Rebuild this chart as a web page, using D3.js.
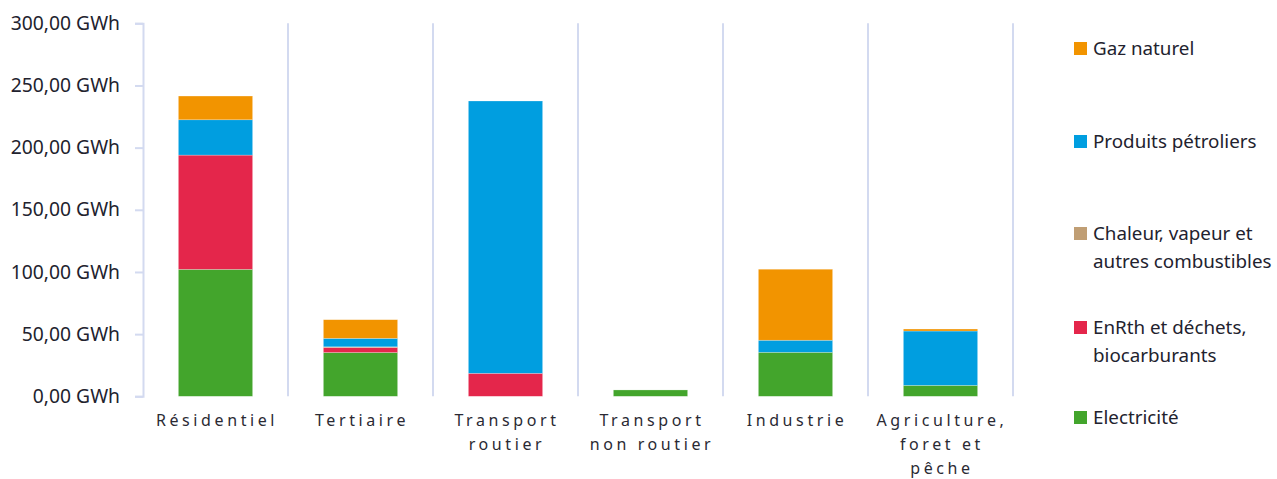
<!DOCTYPE html>
<html>
<head>
<meta charset="utf-8">
<script src="https://cdn.jsdelivr.net/npm/d3@7"></script>
<style>
  body { margin: 0; background: #fff; }
  svg { display: block; }
</style>
</head>
<body>
<script>
// chart data
var categories = [["Résidentiel"], ["Tertiaire"], ["Transport", "routier"], ["Transport", "non routier"], ["Industrie"], ["Agriculture,", "foret et", "pêche"]];
var seriesNames = ["Electricité", "EnRth et déchets, biocarburants", "Chaleur, vapeur et autres combustibles", "Produits pétroliers", "Gaz naturel"];
var seriesColors = ["#43a52c", "#e4264b", "#c09e74", "#009ee0", "#f29400"];
var electricite = [102.1, 35.2, 0, 5.1, 35.4, 8.8];
var enrth = [91.9, 4.0, 18.5, 0, 0, 0];
var chaleur = [0, 0.6, 0, 0, 0, 0];
var petroliers = [28.4, 6.8, 219.0, 0, 9.7, 43.7];
var gaz = [19.1, 15.0, 0, 0, 57.1, 1.6];
var yTicks = [0, 50, 100, 150, 200, 250, 300];
var legendOrder = [4, 3, 2, 1, 0];
var legendLabels = [["Gaz naturel"], ["Produits pétroliers"], ["Chaleur, vapeur et", "autres combustibles"], ["EnRth et déchets,", "biocarburants"], ["Electricité"]];

var width = 1277, height = 479;
var plot = {left: 143, right: 1013, top: 23.3, bottom: 396.3};
var fmt = function (v) { return d3.format(".2f")(v).replace(".", ",") + " GWh"; };

var svg = d3.select("body").append("svg")
    .attr("width", width)
    .attr("height", height);

var keys = categories.map(function (c) { return c.join(" "); });
var x = d3.scaleBand().domain(keys).range([plot.left, plot.right]).padding(0);
var y = d3.scaleLinear().domain([0, 300]).range([plot.bottom, plot.top]);
var barW = x.bandwidth() * 0.512;

var rows = keys.map(function (k, i) {
    return {key: k, s0: electricite[i], s1: enrth[i], s2: chaleur[i], s3: petroliers[i], s4: gaz[i]};
});
var stack = d3.stack().keys(["s0", "s1", "s2", "s3", "s4"]);
var layers = stack(rows);

// separators between categories
svg.append("g").selectAll("line")
    .data(keys)
    .enter().append("line")
    .attr("x1", function (d) { return x(d) + x.bandwidth(); })
    .attr("x2", function (d) { return x(d) + x.bandwidth(); })
    .attr("y1", plot.top)
    .attr("y2", plot.bottom)
    .attr("stroke", "#d3daf0")
    .attr("stroke-width", 2);

// y axis
var yAxis = d3.axisLeft(y).tickValues(yTicks).tickFormat(fmt).tickSize(8).tickPadding(8);
var gy = svg.append("g")
    .attr("transform", "translate(" + plot.left + ",0)")
    .call(yAxis);
gy.select(".domain").attr("stroke", "#d3daf0").attr("stroke-width", 2);
gy.selectAll(".tick line").attr("stroke", "#d3daf0").attr("stroke-width", 2);
gy.selectAll(".tick text")
    .attr("x", -23)
    .attr("fill", "#22222e")
    .style("font-family", "Noto Sans")
    .style("font-size", "19.3px");

// bars
svg.append("g").selectAll("g")
    .data(layers)
    .enter().append("g")
    .attr("fill", function (d, i) { return seriesColors[i]; })
    .selectAll("rect")
    .data(function (d) { return d; })
    .enter().append("rect")
    .filter(function (d) { return d[1] - d[0] > 0; })
    .attr("x", function (d) { return x(d.data.key) + (x.bandwidth() - barW) / 2; })
    .attr("width", barW)
    .attr("y", function (d) { return y(d[1]); })
    .attr("height", function (d) { return y(d[0]) - y(d[1]); })
    .attr("stroke", "#ffffff")
    .attr("stroke-opacity", 0.4)
    .attr("stroke-width", 0.6);

// category labels
var catLabels = svg.append("g").selectAll("text")
    .data(categories)
    .enter().append("text")
    .attr("x", function (d) { return x(d.join(" ")) + x.bandwidth() / 2 + 1.5; })
    .attr("y", 426)
    .attr("text-anchor", "middle")
    .attr("fill", "#2a2a33")
    .style("font-family", "Noto Sans")
    .style("font-size", "16px")
    .style("letter-spacing", "3.6px");
catLabels.selectAll("tspan")
    .data(function (d) { return d; })
    .enter().append("tspan")
    .attr("x", function () { return d3.select(this.parentNode).attr("x"); })
    .attr("dy", function (d, i) { return i === 0 ? 0 : 23.8; })
    .text(function (d) { return d; });

// legend
var legendY = [48, 141, 233, 327, 417];
var lg = svg.append("g").selectAll("g")
    .data(legendOrder)
    .enter().append("g")
    .attr("transform", function (d, i) { return "translate(1074," + legendY[i] + ")"; });
lg.append("rect")
    .attr("x", 0)
    .attr("y", -6)
    .attr("width", 13)
    .attr("height", 13)
    .attr("fill", function (d) { return seriesColors[d]; });
lg.append("text")
    .attr("fill", "#22222e")
    .style("font-family", "Noto Sans")
    .style("font-size", "18.8px")
    .selectAll("tspan")
    .data(function (d, i) { return legendLabels[i]; })
    .enter().append("tspan")
    .attr("x", 19)
    .attr("y", function (d, i) { return 6.5 + i * 28.5; })
    .text(function (d) { return d; });
</script>
</body>
</html>
